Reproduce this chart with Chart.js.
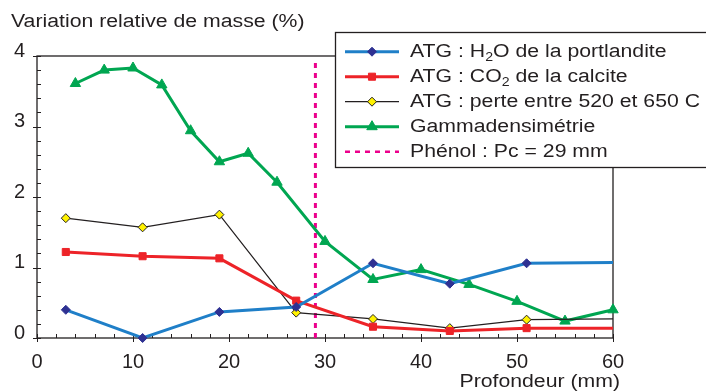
<!DOCTYPE html>
<html>
<head>
<meta charset="utf-8">
<script src="https://cdn.jsdelivr.net/npm/chart.js@4/dist/chart.umd.min.js"></script>
<style>
  html, body { margin: 0; padding: 0; background: #fff; }
  canvas { display: block; }
</style>
</head>
<body>
<canvas id="chart" width="706" height="392"></canvas>
<script>
// ---- data ----
const depthAtg = [3, 11, 19, 27, 35, 43, 51, 60];
const h2oPortlandite = [0.40, 0.00, 0.37, 0.44, 1.06, 0.77, 1.06, 1.07];
const co2Calcite = [1.22, 1.16, 1.13, 0.53, 0.16, 0.10, 0.14, 0.14];
const perte520650 = [1.70, 1.57, 1.75, 0.36, 0.27, 0.14, 0.26, 0.27];
const depthGamma = [4, 7, 10, 13, 16, 19, 22, 25, 30, 35, 40, 45, 50, 55, 60];
const gammadensimetrie = [3.61, 3.80, 3.83, 3.59, 2.94, 2.50, 2.62, 2.21, 1.37, 0.83, 0.97, 0.76, 0.52, 0.24, 0.40];
const phenolPc = 29;
const phenolTop = 3.94;
const xTicks = [0, 10, 20, 30, 40, 50, 60];
const yTicks = [0, 1, 2, 3, 4];

const FONT = "'Liberation Sans', Arial, Helvetica, sans-serif";
const TEXT = '#231f20';
const STRETCH = 1.18; // the original lettering is slightly wide

function pts(xs, ys) {
  return xs.map((x, i) => ({ x: x, y: ys[i] }));
}
// last point (x = 60) carries no marker on the ATG curves
function radii(n, r) {
  const a = new Array(n).fill(r);
  a[n - 1] = 0;
  return a;
}

const series = [
  { color: '#1f7fc8', marker: '#2e3192', border: '#2e3192', style: 'rectRot', r: 4.5, width: 3, bw: 1 },
  { color: '#ed2328', marker: '#ed2328', border: '#ed2328', style: 'rect', r: 5, width: 3, bw: 1 },
  { color: '#231f20', marker: '#fff200', border: '#231f20', style: 'rectRot', r: 4.5, width: 1.2, bw: 1 },
  { color: '#00a651', marker: '#00a651', border: '#00a651', style: 'triangle', r: 6, width: 3, bw: 1 }
];

const datasets = [
  {
    data: pts(depthAtg, h2oPortlandite), borderColor: series[0].color, borderWidth: 3,
    pointStyle: 'rectRot', pointRadius: radii(depthAtg.length, 4.5),
    pointBackgroundColor: '#2e3192', pointBorderColor: '#2e3192', pointBorderWidth: 1
  },
  {
    data: pts(depthAtg, co2Calcite), borderColor: series[1].color, borderWidth: 3,
    pointStyle: 'rect', pointRadius: radii(depthAtg.length, 5),
    pointBackgroundColor: '#ed2328', pointBorderColor: '#ed2328', pointBorderWidth: 1
  },
  {
    data: pts(depthAtg, perte520650), borderColor: '#231f20', borderWidth: 1.2,
    pointStyle: 'rectRot', pointRadius: radii(depthAtg.length, 4.5),
    pointBackgroundColor: '#fff200', pointBorderColor: '#231f20', pointBorderWidth: 1
  },
  {
    data: pts(depthGamma, gammadensimetrie), borderColor: series[3].color, borderWidth: 3,
    pointStyle: 'triangle', pointRadius: 6,
    pointBackgroundColor: '#00a651', pointBorderColor: '#00a651', pointBorderWidth: 1
  },
  {
    data: [{ x: phenolPc, y: 0 }, { x: phenolPc, y: phenolTop }], borderColor: '#ec008c',
    borderWidth: 3, borderDash: [5, 5], pointRadius: 0
  }
];

function wideText(ctx, parts, x, y, align) {
  // parts: [text, isSubscript]
  ctx.save();
  ctx.fillStyle = TEXT;
  ctx.textBaseline = 'alphabetic';
  ctx.textAlign = 'left';
  let total = 0;
  parts.forEach(p => {
    ctx.font = (p[1] ? '12px ' : '18px ') + FONT;
    total += ctx.measureText(p[0]).width * STRETCH;
  });
  let cx = align === 'right' ? x - total : x;
  parts.forEach(p => {
    ctx.font = (p[1] ? '12px ' : '18px ') + FONT;
    const w = ctx.measureText(p[0]).width;
    ctx.save();
    ctx.translate(cx, y + (p[1] ? 4 : 0));
    ctx.scale(STRETCH, 1);
    ctx.fillText(p[0], 0, 0);
    ctx.restore();
    cx += w * STRETCH;
  });
  ctx.restore();
}

function marker(ctx, s, x, y) {
  ctx.save();
  ctx.fillStyle = s.marker;
  ctx.strokeStyle = s.border;
  ctx.lineWidth = s.bw;
  ctx.beginPath();
  if (s.style === 'rectRot') {
    ctx.moveTo(x, y - s.r); ctx.lineTo(x + s.r, y); ctx.lineTo(x, y + s.r); ctx.lineTo(x - s.r, y);
  } else if (s.style === 'rect') {
    const h = s.r * Math.SQRT1_2;
    ctx.rect(x - h, y - h, 2 * h, 2 * h);
  } else {
    ctx.moveTo(x, y - s.r); ctx.lineTo(x + s.r * 0.87, y + s.r * 0.5); ctx.lineTo(x - s.r * 0.87, y + s.r * 0.5);
  }
  ctx.closePath();
  ctx.fill();
  ctx.stroke();
  ctx.restore();
}

// frame and ticks, drawn under the curves
const framePlugin = {
  id: 'frame',
  beforeDatasetsDraw(chart) {
    const { ctx, chartArea: a, scales } = chart;
    ctx.save();
    ctx.strokeStyle = '#231f20';
    ctx.lineWidth = 1.3;
    ctx.strokeRect(a.left, a.top, a.right - a.left, a.bottom - a.top);
    ctx.lineWidth = 1;
    for (let v = 0; v <= 60; v += 2) {
      const px = Math.round(scales.x.getPixelForValue(v)) + 0.5;
      const major = v % 10 === 0;
      ctx.beginPath();
      ctx.moveTo(px, a.bottom - 4);
      ctx.lineTo(px, major ? a.bottom + 4 : a.bottom);
      ctx.stroke();
    }
    for (let v = 0; v <= 20; v++) {
      const py = Math.round(scales.y.getPixelForValue(v / 5)) + 0.5;
      const major = v % 5 === 0;
      ctx.beginPath();
      ctx.moveTo(major ? a.left - 4 : a.left, py);
      ctx.lineTo(a.left + 4, py);
      ctx.stroke();
    }
    ctx.restore();
  },
  afterDraw(chart) {
    const ctx = chart.ctx;
    // titles
    wideText(ctx, [['Variation relative de masse (%)']], 11, 27);
    wideText(ctx, [['Profondeur (mm)']], 620, 387, 'right');

    // legend box
    ctx.save();
    ctx.fillStyle = '#fff';
    ctx.fillRect(335, 32, 380, 135);
    ctx.strokeStyle = '#231f20';
    ctx.lineWidth = 1.3;
    ctx.strokeRect(335.5, 32.5, 380, 135);
    ctx.restore();

    const rows = [
      [['ATG : H'], ['2', true], ['O de la portlandite']],
      [['ATG : CO'], ['2', true], [' de la calcite']],
      [['ATG : perte entre 520 et 650 C']],
      [['Gammadensimétrie']],
      [['Phénol : Pc = 29 mm']]
    ];
    rows.forEach((parts, i) => {
      const base = 56.7 + i * 25;
      const ly = base - 5;
      ctx.save();
      if (i < 4) {
        ctx.strokeStyle = series[i].color;
        ctx.lineWidth = series[i].width;
      } else {
        ctx.strokeStyle = '#ec008c';
        ctx.lineWidth = 2.5;
        ctx.setLineDash([5, 5]);
      }
      ctx.beginPath();
      ctx.moveTo(345, ly);
      ctx.lineTo(399, ly);
      ctx.stroke();
      ctx.restore();
      if (i < 4) marker(ctx, series[i], 372, ly);
      wideText(ctx, parts, 410, base);
    });
  }
};

new Chart(document.getElementById('chart'), {
  type: 'line',
  data: { datasets: datasets },
  options: {
    responsive: false,
    animation: false,
    clip: false,
    layout: { padding: { top: 56, right: 93, left: 0, bottom: 0 } },
    elements: { line: { tension: 0, fill: false } },
    plugins: { legend: { display: false }, tooltip: { enabled: false } },
    scales: {
      x: {
        type: 'linear', min: 0, max: 60,
        afterBuildTicks: s => { s.ticks = xTicks.map(v => ({ value: v })); },
        afterFit: s => { s.height = 54; },
        ticks: { padding: 12, color: TEXT, font: { family: FONT, size: 20 } },
        grid: { display: false, drawTicks: false },
        border: { display: false }
      },
      y: {
        type: 'linear', min: 0, max: 4,
        afterBuildTicks: s => { s.ticks = yTicks.map(v => ({ value: v })); },
        afterFit: s => { s.width = 37; },
        ticks: { padding: 12, labelOffset: -5, color: TEXT, font: { family: FONT, size: 20 } },
        grid: { display: false, drawTicks: false },
        border: { display: false }
      }
    }
  },
  plugins: [framePlugin]
});
</script>
</body>
</html>
